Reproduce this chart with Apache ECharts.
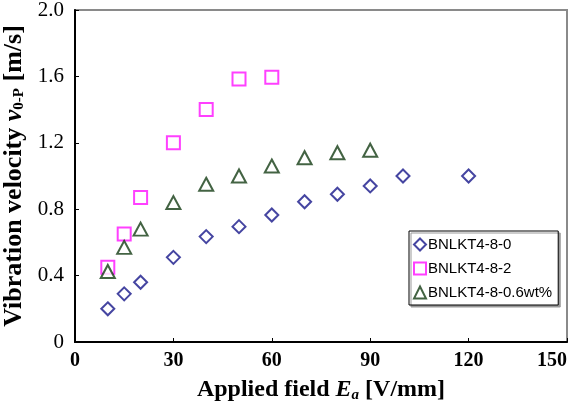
<!DOCTYPE html>
<html>
<head>
<meta charset="utf-8">
<script src="https://cdn.jsdelivr.net/npm/echarts@6/dist/echarts.min.js"></script>
<style>
  html, body { margin: 0; padding: 0; background: #fff; }
  #chart { width: 578px; height: 407px; }
</style>
</head>
<body>
<div id="chart"></div>
<script>
// applied field [V/mm] for each sample
const fieldA = [10, 15, 20, 30, 40, 50, 60, 70, 80, 90, 100, 120]
const velA = [0.20, 0.29, 0.36, 0.51, 0.635, 0.695, 0.765, 0.845, 0.89, 0.94, 1.0, 1.0]

const fieldB = [10, 15, 20, 30, 40, 50, 60]
const velB = [0.45, 0.65, 0.87, 1.20, 1.40, 1.585, 1.595]

const fieldC = [10, 15, 20, 30, 40, 50, 60, 70, 80, 90]
const velC = [0.425, 0.57, 0.68, 0.84, 0.95, 1.0, 1.06, 1.11, 1.14, 1.155]

const seriesNames = ['BNLKT4-8-0', 'BNLKT4-8-2', 'BNLKT4-8-0.6wt%']

const pairs = (xs, ys) => xs.map((x, i) => [x, ys[i]])

const serif = '"Liberation Serif", "DejaVu Serif", serif'

const chart = echarts.init(document.getElementById('chart'))

chart.setOption({
  animation: false,
  grid: {
    left: 75, right: 11, top: 10, bottom: 65,
    containLabel: false,
    outerBoundsMode: 'none',
    show: true,
    borderColor: '#8a8a8a',
    borderWidth: 2
  },
  legend: {
    orient: 'vertical',
    left: 409,
    top: 231,
    data: seriesNames,
    itemWidth: 12,
    itemHeight: 12,
    itemGap: 9,
    padding: [6, 6, 5, 4],
    borderColor: '#000',
    borderWidth: 1,
    backgroundColor: '#fff',
    shadowColor: '#999',
    shadowOffsetX: 2,
    shadowOffsetY: 2,
    shadowBlur: 0,
    textStyle: {
      fontFamily: '"Liberation Sans", Arial, sans-serif',
      fontSize: 15,
      color: '#000',
      padding: [0, 0, 0, -3]
    }
  },
  xAxis: {
    type: 'value',
    min: 0, max: 150, interval: 30,
    name: 'Applied field {e|E}{sub|a} [V/mm]',
    nameLocation: 'middle',
    nameGap: 35,
    nameTextStyle: {
      fontFamily: serif,
      fontWeight: 'bold',
      fontSize: 24,
      color: '#000',
      rich: {
        e: { fontFamily: serif, fontWeight: 'bold', fontStyle: 'italic', fontSize: 24, color: '#000' },
        sub: { fontFamily: serif, fontWeight: 'bold', fontStyle: 'italic', fontSize: 15, color: '#000', verticalAlign: 'bottom', padding: [11, 0, 0, 0] }
      }
    },
    splitLine: { show: false },
    axisLine: { lineStyle: { color: '#000', width: 2 } },
    axisTick: { inside: true, length: 4, lineStyle: { color: '#000' } },
    axisLabel: {
      fontFamily: serif, fontWeight: 'bold', fontSize: 20, color: '#000', margin: 9,
      alignMaxLabel: 'right'
    }
  },
  yAxis: {
    type: 'value',
    min: 0, max: 2, interval: 0.4,
    name: 'Vibration velocity {v|v}{sub|0-P} [m/s]',
    nameLocation: 'middle',
    nameRotate: 90,
    nameGap: 44,
    nameTextStyle: {
      fontFamily: serif,
      fontWeight: 'bold',
      fontSize: 26,
      color: '#000',
      rich: {
        v: { fontFamily: serif, fontWeight: 'bold', fontStyle: 'italic', fontSize: 26, color: '#000' },
        sub: { fontFamily: serif, fontWeight: 'bold', fontSize: 15, color: '#000', verticalAlign: 'bottom', padding: [11, 0, 0, 0] }
      }
    },
    splitLine: { show: false },
    axisLine: { lineStyle: { color: '#000', width: 2 } },
    axisTick: { inside: true, length: 4, lineStyle: { color: '#000' } },
    axisLabel: {
      fontFamily: serif, fontSize: 21, color: '#000', margin: 11,
      formatter: v => (v === 0 ? '0' : v.toFixed(1))
    }
  },
  series: [
    {
      name: seriesNames[0],
      type: 'scatter',
      data: pairs(fieldA, velA),
      symbol: 'emptyDiamond',
      symbolSize: 13,
      itemStyle: { color: '#16168a', borderColor: '#16168a', borderWidth: 1.4 },
      z: 3
    },
    {
      name: seriesNames[1],
      type: 'scatter',
      data: pairs(fieldB, velB),
      symbol: 'emptyRect',
      symbolSize: 13,
      itemStyle: { color: '#ff10ff', borderColor: '#ff10ff', borderWidth: 1.4 },
      z: 2
    },
    {
      name: seriesNames[2],
      type: 'scatter',
      data: pairs(fieldC, velC),
      symbol: 'emptyTriangle',
      symbolSize: [14, 13],
      itemStyle: { color: '#143c14', borderColor: '#143c14', borderWidth: 1.4 },
      z: 2
    }
  ]
})
</script>
</body>
</html>
